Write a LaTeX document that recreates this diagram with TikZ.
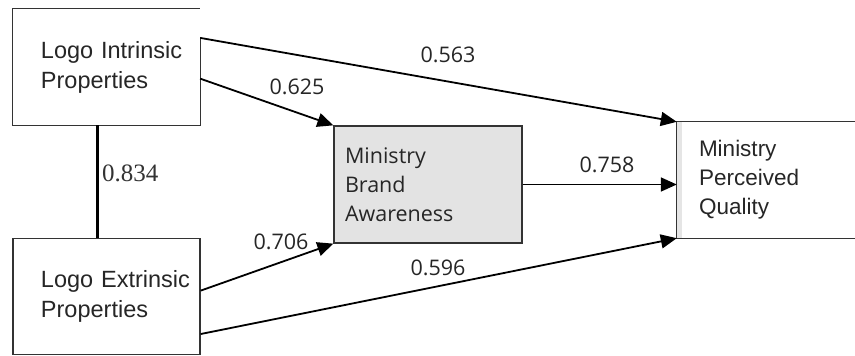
\documentclass[tikz,border=0pt]{standalone}
\usepackage{fontspec}
\setmainfont{Liberation Sans}
\newfontfamily\myriadf{Open Sans}
\newfontfamily\timesf{Liberation Serif}
\usetikzlibrary{calc, positioning, arrows.meta}

\tikzset{
  construct/.style={minimum width=187pt, minimum height=116pt, inner sep=0pt,
    text width=131pt, inner xsep=28pt, align=left, text=black!85,
    font=\fontsize{23.5}{30}\selectfont},
  outline/.style={line width=1.3pt, draw=black!80},
  path/.style={line width=1.8pt, -{Triangle[length=16pt,width=14pt]}},
  coef/.style={text=black!85, font=\myriadf\fontsize{21.5}{22}\selectfont},
}

\begin{document}
\begin{tikzpicture}[x=1pt,y=-1pt]
    \useasboundingbox (0,0) rectangle (855,356);

    % constructs
    \node[construct] (intr) at (106.5,67) {\mbox{Logo Intrinsic}\\Properties};
    \node[construct, outline] (extr) at (106.5,296.5) {\mbox{Logo Extrinsic}\\Properties};
    \node[construct, outline, fill=black!11, minimum width=188pt, minimum height=117pt,
      text width=166pt, inner xsep=11pt, font=\myriadf\fontsize{21.5}{29}\selectfont]
      (aware) at (428,184.5) {Ministry\\Brand\\Awareness};
    \node[construct, minimum width=178pt, text width=134pt, inner xsep=22pt,
      font=\fontsize{22.5}{29}\selectfont] (qual) at (766,180) {Ministry\\Perceived\\Quality};

    % open outlines
    \draw[outline] ([yshift=-28pt]intr.north east) -- (intr.south east) -- (intr.south west)
      -- (intr.north west) -- (intr.north east);
    \fill[black!10] (qual.north west) rectangle ([xshift=5pt]qual.south west);
    \draw[outline] (qual.north east) -- (qual.north west) -- (qual.south west) -- (qual.south east);

    % correlation
    \draw[line width=2.5pt] ([xshift=-9pt]intr.south) -- ([xshift=-9pt]extr.north)
      node[pos=0.43, right, text=black!80, font=\timesf\fontsize{25}{25}\selectfont] (r834) {0.834};

    % paths
    \coordinate (i1) at ($(intr.north east)!0.25!(intr.south east)$);
    \coordinate (i2) at ($(intr.north east)!0.6!(intr.south east)$);
    \coordinate (e1) at ($(extr.north east)!0.45!(extr.south east)$);
    \coordinate (e2) at ($(extr.north east)!0.82!(extr.south east)$);

    \draw[path] (i1) -- (qual.north west);
    \draw[path] (i2) -- (aware.north west);
    \draw[path] (e1) -- (aware.south west);
    \draw[path] (e2) -- (qual.south west);
    \draw[path] (aware.east) -- (aware.east -| qual.west);

    \node[coef] (c563) at (448,55) {0.563};
    \node[coef] (c625) at (297,87) {0.625};
    \node[coef] (c706) at (281,242) {0.706};
    \node[coef] (c596) at (438,268) {0.596};
    \node[coef] (c758) at (607,165) {0.758};
\end{tikzpicture}
\end{document}
